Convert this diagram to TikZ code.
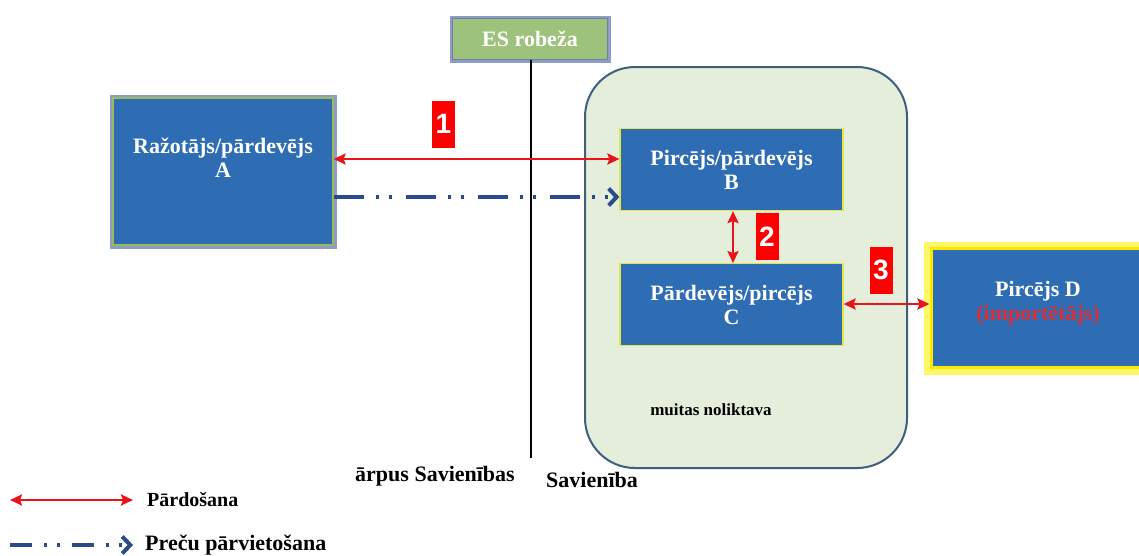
\documentclass[tikz,border=0pt]{standalone}
\usepackage{fontspec}
\setmainfont{Liberation Serif}
\newfontfamily\tagfont{Liberation Sans}
\usepackage{xcolor}
\usetikzlibrary{positioning,arrows.meta}
\definecolor{boxblue}{HTML}{2E6DB4}
\definecolor{boxyellow}{HTML}{E2E64A}
\definecolor{boxgreen}{HTML}{9BBB59}
\definecolor{haze}{HTML}{8E9CC8}
\definecolor{esgreen}{HTML}{9DC27B}
\definecolor{storefill}{HTML}{E4EEDA}
\definecolor{storeline}{HTML}{3E5F7D}
\definecolor{salered}{HTML}{E8141B}
\definecolor{movenavy}{HTML}{2B4A8A}
\definecolor{imptred}{HTML}{D8303A}

\begin{document}
\begin{tikzpicture}[x=1pt, y=-1pt,
box/.style={rectangle, fill=boxblue, draw=boxyellow, line width=1.2pt, text=white, font=\bfseries\fontsize{22}{24}\selectfont, align=center, minimum width=223pt, minimum height=82pt, inner sep=0pt},
hazebox/.style={box, draw=boxgreen, preaction={draw=haze, line width=7pt, rounded corners=3pt}},
esbox/.style={rectangle, fill=esgreen, draw=haze!80!black, line width=1pt, preaction={draw=haze, line width=6pt, rounded corners=3pt}, text=white, font=\bfseries\fontsize{22}{24}\selectfont, minimum width=155pt, minimum height=41pt, inner sep=0pt},
glowbox/.style={box, draw=yellow!90!orange, line width=3pt, preaction={draw=yellow!60, line width=14pt}},
store/.style={rectangle, rounded corners=50pt, fill=storefill, draw=storeline, line width=2pt, minimum width=322pt, minimum height=401pt},
tag/.style={rectangle, fill=red, text=white, font=\tagfont\bfseries\fontsize{28}{28}\selectfont, minimum width=23pt, minimum height=47pt, inner sep=0pt},
txt/.style={font=\bfseries\fontsize{22}{24}\selectfont, inner sep=0pt},
sale/.style={salered, line width=2.6pt, {Stealth[length=12pt,width=11pt,inset=2pt]}-{Stealth[length=12pt,width=11pt,inset=2pt]}},
move/.style={movenavy, line width=3.4pt, dash pattern=on 30pt off 12pt on 3pt off 10pt on 3pt off 14pt, -{Straight Barb[length=8pt,width=17pt,line width=4pt]}}
]
\useasboundingbox (0,0) rectangle (1139,555);

% customs warehouse and border
\node[store](store) at (746,267.5){};
\node[esbox](es) at (530,39){ES robeža};
\coordinate (border_end) at (531,458);
\draw[line width=2.5pt] (es.south -| border_end) -- (border_end);

% parties
\node[hazebox, minimum width=220pt, minimum height=147pt](seller_a) at (223,171.5){Ražotājs/pārdevējs\\A\\[4pt]\mbox{}};
\node[box](buyer_b) at (731.5,169.5){Pircējs/pārdevējs\\B};
\node[box](seller_c)[below=52pt of buyer_b]{Pārdevējs/pircējs\\C};
\node[glowbox, minimum width=214pt, minimum height=119pt](buyer_d) at (1038,308){Pircējs D\\{\color{imptred}(importētājs)}\\[-10pt]\mbox{}};

\node[txt, font=\bfseries\fontsize{17}{20}\selectfont](store_label) at (711,410){muitas noliktava};
\node[txt](outside) at (435,476){ārpus Savienības};
\node[txt](inside) at (592,480){Savienība};

% transactions
\draw[sale] (seller_a.east |- 0,159) -- (buyer_b.west |- 0,159);
\draw[move] (seller_a.east |- 0,197) -- (buyer_b.west |- 0,197);
\draw[sale] (buyer_b.south -| 733,0) -- (seller_c.north -| 733,0);
\draw[sale] (seller_c.east |- 0,304) -- (buyer_d.west |- 0,304);

\node[tag](tag_one) at (443.5,124){1};
\node[tag](tag_two) at (767,236.5){2};
\node[tag](tag_three) at (881,270){3};

% legend
\coordinate (sale_from) at (10,500);
\coordinate (sale_to) at (133,500);
\coordinate (move_from) at (10,545);
\coordinate (move_to) at (133,545);
\draw[sale] (sale_from) -- (sale_to);
\draw[move, dash pattern=on 22pt off 12pt on 3pt off 10pt on 3pt off 12pt] (move_from) -- (move_to);
\node[txt, font=\bfseries\fontsize{20}{24}\selectfont, anchor=west](sale_text) at (147,500){Pārdošana};
\node[txt, anchor=west](move_text) at (145,545){Preču pārvietošana};

\end{tikzpicture}
\end{document}
